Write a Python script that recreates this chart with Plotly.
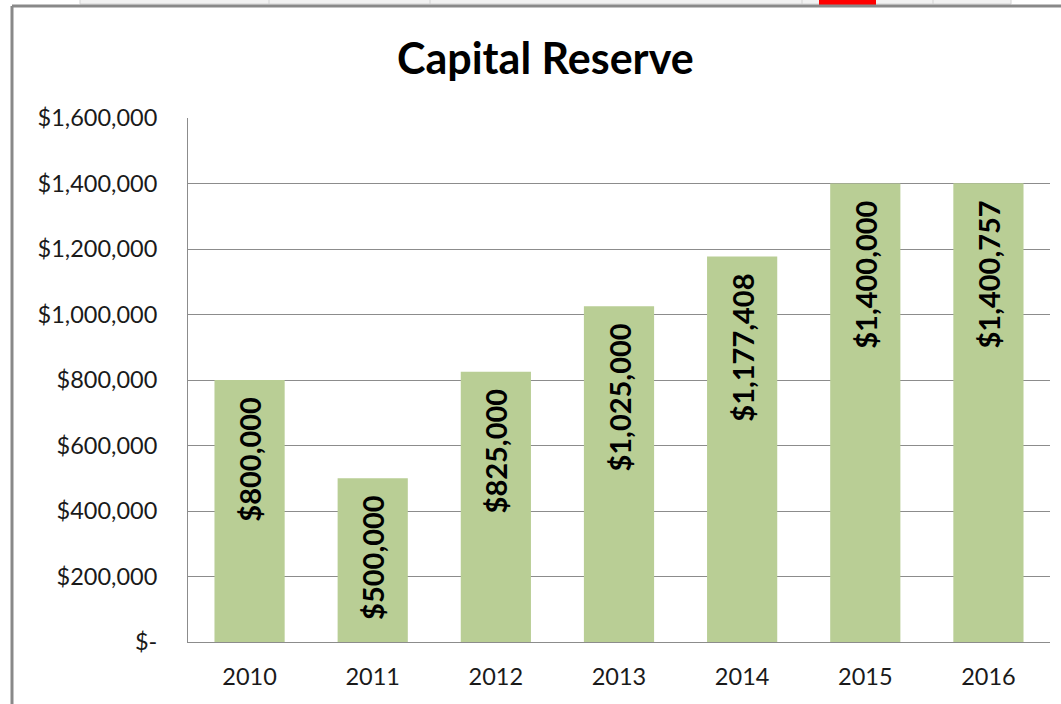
import plotly.graph_objects as go

years = ["2010", "2011", "2012", "2013", "2014", "2015", "2016"]
reserve = [800000, 500000, 825000, 1025000, 1177408, 1400000, 1400757]
y_ticks = [0, 200000, 400000, 600000, 800000, 1000000, 1200000, 1400000, 1600000]
y_ticktext = ["$-", "$200,000", "$400,000", "$600,000", "$800,000",
              "$1,000,000", "$1,200,000", "$1,400,000", "$1,600,000"]
title_text = "Capital Reserve"

W, H = 1061, 704
L, R, T, B = 188, 11, 118, 62
PW, PH = W - L - R, H - T - B

def px(x):
    return (x - L) / PW

def py(y):
    return (H - B - y) / PH

FONT = "Lato"
GRID = "#8c8c8c"

fig = go.Figure()
fig.add_trace(go.Bar(
    x=years, y=reserve,
    marker=dict(color="#B9CE95", line=dict(width=0)),
    texttemplate="<b>$%{y:,.0f}\u00a0\u00a0</b>",
    textposition="inside",
    insidetextanchor="end",
    textangle=-90,
    constraintext="none",
    textfont=dict(family=FONT, size=29, color="black"),
    hoverinfo="skip",
))

shapes = []
# spreadsheet cells strip above chart
shapes.append(dict(type="rect", xref="paper", yref="paper",
                   x0=px(80), x1=px(1011), y0=py(4), y1=py(-2),
                   fillcolor="#f2f2f2", line=dict(color="#d4d4d4", width=1), layer="below"))
shapes.append(dict(type="rect", xref="paper", yref="paper",
                   x0=px(819), x1=px(876), y0=py(5), y1=py(-2),
                   fillcolor="#ff0000", line=dict(width=0)))
for cx in [269, 430, 802, 933]:
    shapes.append(dict(type="line", xref="paper", yref="paper",
                       x0=px(cx), x1=px(cx), y0=py(4), y1=py(-2),
                       line=dict(color="#d4d4d4", width=1)))
# chart outer border
shapes.append(dict(type="line", xref="paper", yref="paper",
                   x0=px(12), x1=px(1070), y0=py(6), y1=py(6),
                   line=dict(color="#898989", width=3)))
shapes.append(dict(type="line", xref="paper", yref="paper",
                   x0=px(12), x1=px(12), y0=py(6), y1=py(720),
                   line=dict(color="#898989", width=3)))

fig.update_layout(
    width=W, height=H,
    margin=dict(l=L, r=R, t=T, b=B, pad=0),
    paper_bgcolor="white", plot_bgcolor="white",
    showlegend=False,
    bargap=0.43,
    shapes=shapes,
    annotations=[dict(text="<b>" + title_text + "</b>", xref="paper", yref="paper",
                      x=px(545), y=py(58), xanchor="center", yanchor="middle",
                      showarrow=False, font=dict(family=FONT, size=43, color="black"))],
    font=dict(family=FONT, color="#1a1a1a"),
)
fig.update_yaxes(
    range=[0, 1600000], tickvals=y_ticks, ticktext=y_ticktext,
    showgrid=True, gridcolor=GRID, gridwidth=1,
    showline=True, linecolor=GRID, linewidth=1,
    ticks="outside", ticklen=0, ticklabelstandoff=25,
    tickfont=dict(family=FONT, size=23.5, color="#1a1a1a"),
    zeroline=False, fixedrange=True,
)
fig.update_xaxes(
    showline=True, linecolor=GRID, linewidth=1,
    ticks="outside", ticklen=0, ticklabelstandoff=14,
    tickfont=dict(family=FONT, size=23.5, color="#1a1a1a"),
    fixedrange=True,
)
fig.write_html("out.html", config={"displayModeBar": False},
               post_script="document.body.style.margin='0';document.body.style.overflow='hidden';")
